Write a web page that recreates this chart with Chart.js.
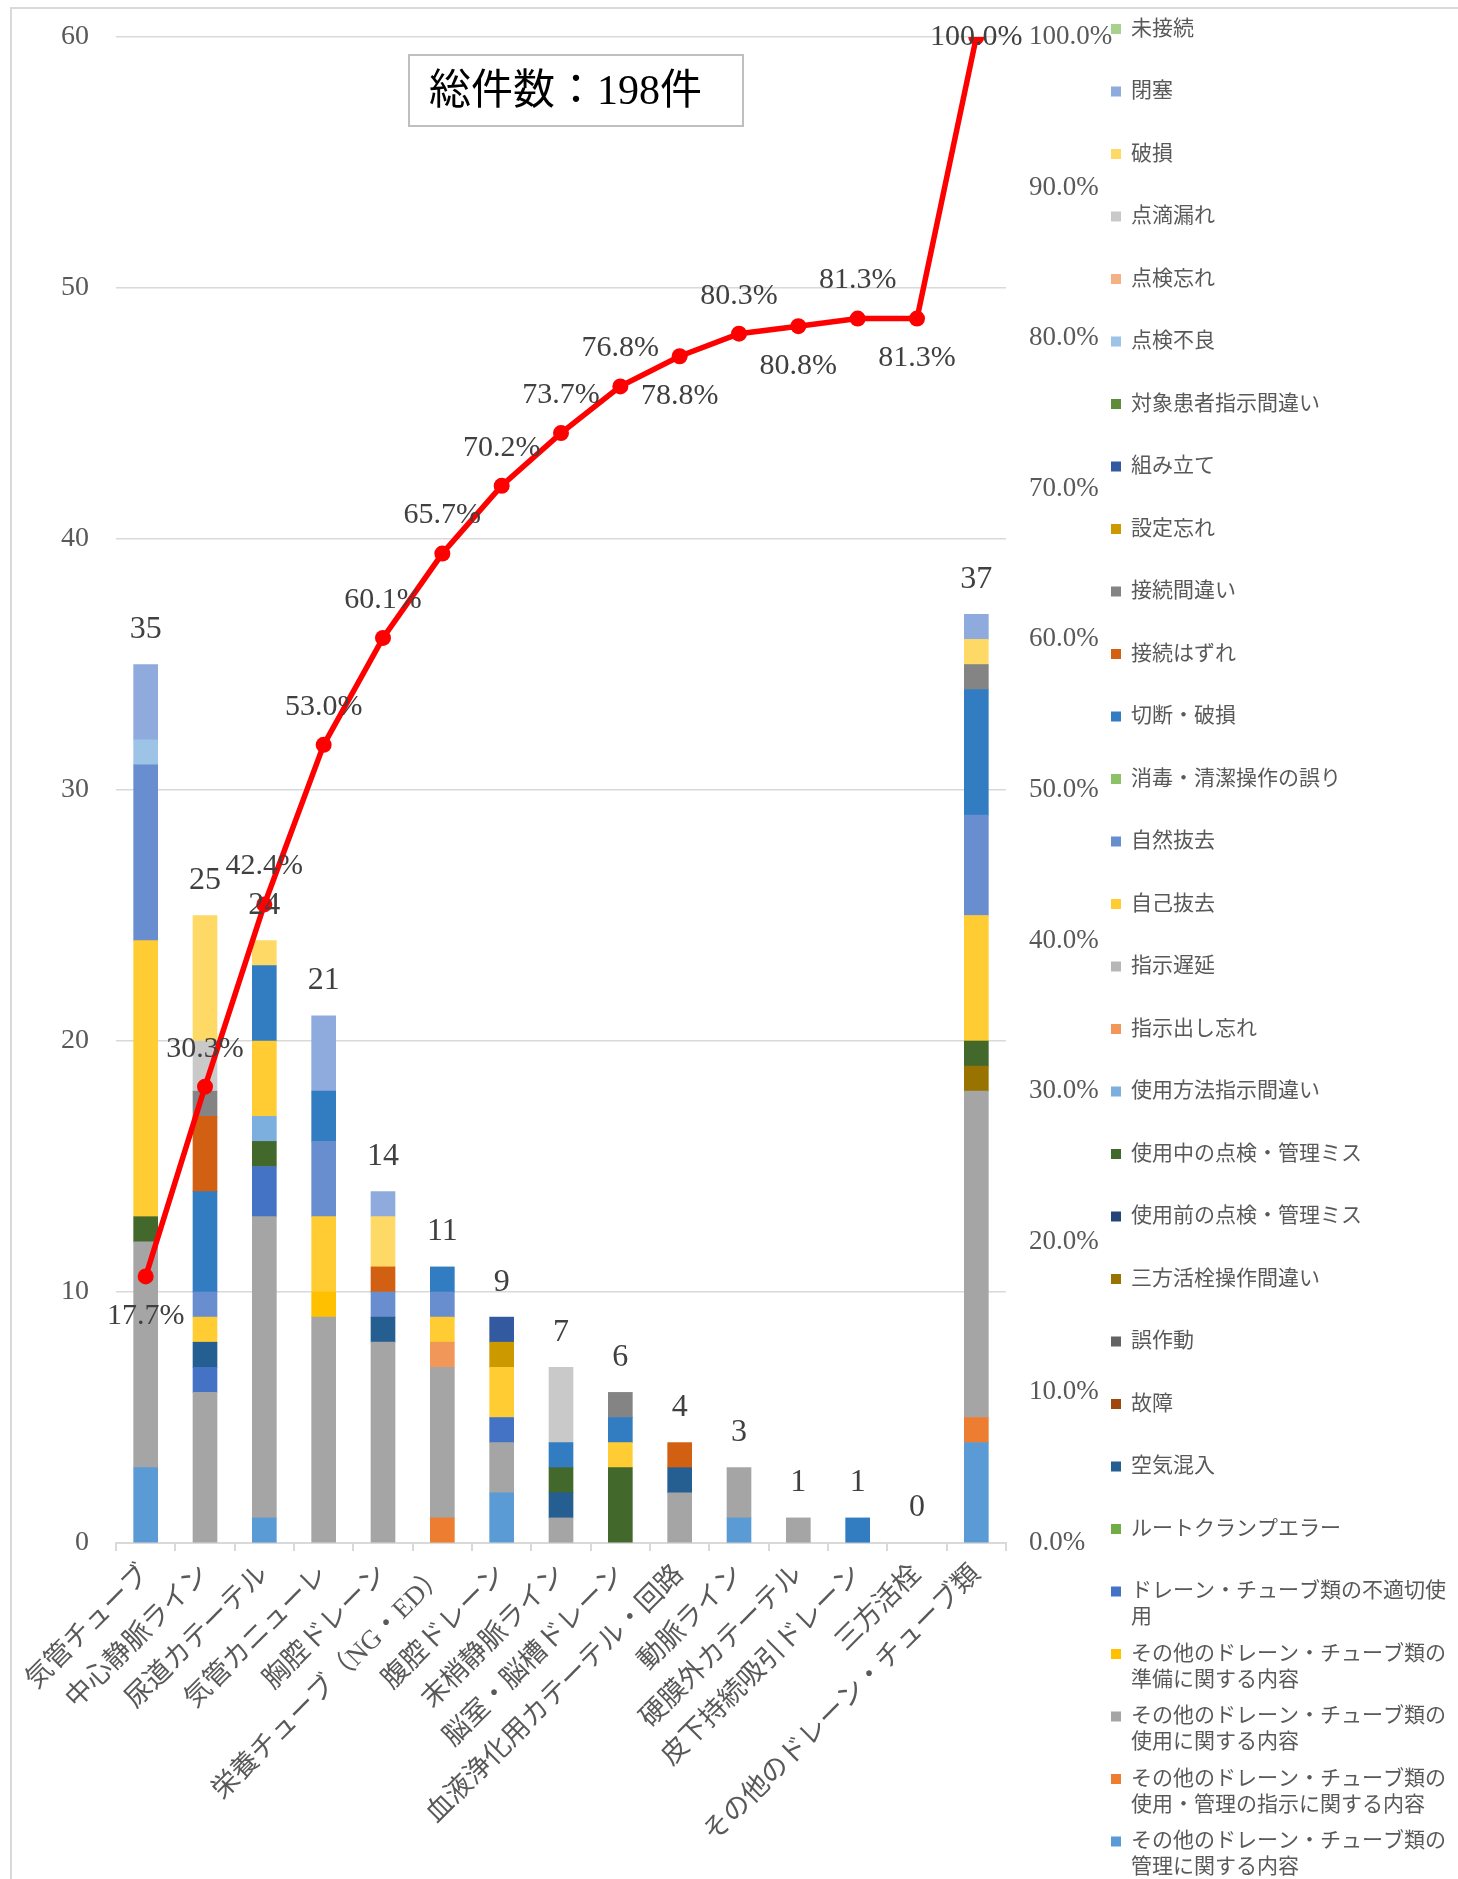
<!DOCTYPE html>
<html lang="ja">
<head>
<meta charset="utf-8">
<title>ドレーン・チューブ類 インシデント件数</title>
<script src="https://cdn.jsdelivr.net/npm/chart.js@4.4.1/dist/chart.umd.min.js"></script>
<style>
  html, body { margin: 0; padding: 0; background: #fff; }
  #wrap { position: relative; width: 1458px; height: 1879px; }
</style>
</head>
<body>
<div id="wrap"><canvas id="pareto"></canvas></div>
<script>
// カテゴリ（件数の多い順、その他は最後）
const categories = [
  '気管チューブ', '中心静脈ライン', '尿道カテーテル', '気管カニューレ', '胸腔ドレーン',
  '栄養チューブ（NG・ED）', '腹腔ドレーン', '末梢静脈ライン', '脳室・脳槽ドレーン',
  '血液浄化用カテーテル・回路', '動脈ライン', '硬膜外カテーテル', '皮下持続吸引ドレーン',
  '三方活栓', 'その他のドレーン・チューブ類'
];

// 棒の上の合計件数
const totals = [35, 25, 24, 21, 14, 11, 9, 7, 6, 4, 3, 1, 1, 0, 37];

// 累積比率（%）
const cumulativePct = [17.7, 30.3, 42.4, 53.0, 60.1, 65.7, 70.2, 73.7, 76.8, 78.8, 80.3, 80.8, 81.3, 81.3, 100.0];

// 内容別の系列（積み上げの下から順）
const seriesNames = [
  'その他のドレーン・チューブ類の管理に関する内容',
  'その他のドレーン・チューブ類の使用・管理の指示に関する内容',
  'その他のドレーン・チューブ類の使用に関する内容',
  'その他のドレーン・チューブ類の準備に関する内容',
  'ドレーン・チューブ類の不適切使用',
  'ルートクランプエラー',
  '空気混入',
  '故障',
  '誤作動',
  '三方活栓操作間違い',
  '使用前の点検・管理ミス',
  '使用中の点検・管理ミス',
  '使用方法指示間違い',
  '指示出し忘れ',
  '指示遅延',
  '自己抜去',
  '自然抜去',
  '消毒・清潔操作の誤り',
  '切断・破損',
  '接続はずれ',
  '接続間違い',
  '設定忘れ',
  '組み立て',
  '対象患者指示間違い',
  '点検不良',
  '点検忘れ',
  '点滴漏れ',
  '破損',
  '閉塞',
  '未接続'
];

const seriesValues = [
  [3, 0, 1, 0, 0, 0, 2, 0, 0, 0, 1, 0, 0, 0, 4],     // 管理に関する内容
  [0, 0, 0, 0, 0, 1, 0, 0, 0, 0, 0, 0, 0, 0, 1],     // 使用・管理の指示
  [9, 6, 12, 9, 8, 6, 2, 1, 0, 2, 2, 1, 0, 0, 13],   // 使用に関する内容
  [0, 0, 0, 1, 0, 0, 0, 0, 0, 0, 0, 0, 0, 0, 0],     // 準備に関する内容
  [0, 1, 2, 0, 0, 0, 1, 0, 0, 0, 0, 0, 0, 0, 0],     // 不適切使用
  [0, 0, 0, 0, 0, 0, 0, 0, 0, 0, 0, 0, 0, 0, 0],     // ルートクランプエラー
  [0, 1, 0, 0, 1, 0, 0, 1, 0, 1, 0, 0, 0, 0, 0],     // 空気混入
  [0, 0, 0, 0, 0, 0, 0, 0, 0, 0, 0, 0, 0, 0, 0],     // 故障
  [0, 0, 0, 0, 0, 0, 0, 0, 0, 0, 0, 0, 0, 0, 0],     // 誤作動
  [0, 0, 0, 0, 0, 0, 0, 0, 0, 0, 0, 0, 0, 0, 1],     // 三方活栓操作間違い
  [0, 0, 0, 0, 0, 0, 0, 0, 0, 0, 0, 0, 0, 0, 0],     // 使用前の点検・管理ミス
  [1, 0, 1, 0, 0, 0, 0, 1, 3, 0, 0, 0, 0, 0, 1],     // 使用中の点検・管理ミス
  [0, 0, 1, 0, 0, 0, 0, 0, 0, 0, 0, 0, 0, 0, 0],     // 使用方法指示間違い
  [0, 0, 0, 0, 0, 1, 0, 0, 0, 0, 0, 0, 0, 0, 0],     // 指示出し忘れ
  [0, 0, 0, 0, 0, 0, 0, 0, 0, 0, 0, 0, 0, 0, 0],     // 指示遅延
  [11, 1, 3, 3, 0, 1, 2, 0, 1, 0, 0, 0, 0, 0, 5],    // 自己抜去
  [7, 1, 0, 3, 1, 1, 0, 0, 0, 0, 0, 0, 0, 0, 4],     // 自然抜去
  [0, 0, 0, 0, 0, 0, 0, 0, 0, 0, 0, 0, 0, 0, 0],     // 消毒・清潔操作の誤り
  [0, 4, 3, 2, 0, 1, 0, 1, 1, 0, 0, 0, 1, 0, 5],     // 切断・破損
  [0, 3, 0, 0, 1, 0, 0, 0, 0, 1, 0, 0, 0, 0, 0],     // 接続はずれ
  [0, 1, 0, 0, 0, 0, 0, 0, 1, 0, 0, 0, 0, 0, 1],     // 接続間違い
  [0, 0, 0, 0, 0, 0, 1, 0, 0, 0, 0, 0, 0, 0, 0],     // 設定忘れ
  [0, 0, 0, 0, 0, 0, 1, 0, 0, 0, 0, 0, 0, 0, 0],     // 組み立て
  [0, 0, 0, 0, 0, 0, 0, 0, 0, 0, 0, 0, 0, 0, 0],     // 対象患者指示間違い
  [1, 0, 0, 0, 0, 0, 0, 0, 0, 0, 0, 0, 0, 0, 0],     // 点検不良
  [0, 0, 0, 0, 0, 0, 0, 0, 0, 0, 0, 0, 0, 0, 0],     // 点検忘れ
  [0, 2, 0, 0, 0, 0, 0, 3, 0, 0, 0, 0, 0, 0, 0],     // 点滴漏れ
  [0, 5, 1, 0, 2, 0, 0, 0, 0, 0, 0, 0, 0, 0, 1],     // 破損
  [3, 0, 0, 3, 1, 0, 0, 0, 0, 0, 0, 0, 0, 0, 1],     // 閉塞
  [0, 0, 0, 0, 0, 0, 0, 0, 0, 0, 0, 0, 0, 0, 0]      // 未接続
];

const seriesColors = [
  '#5B9BD5', '#ED7D31', '#A5A5A5', '#FFC000', '#4472C4', '#70AD47',
  '#255E91', '#9E480E', '#636363', '#997300', '#264478', '#43682B',
  '#7CAFDD', '#F1975A', '#B7B7B7', '#FFCD33', '#698ED0', '#8CC168',
  '#327DC2', '#D26012', '#848484', '#CC9A00', '#335AA1', '#5F8B3A',
  '#9DC3E6', '#F4B183', '#C9C9C9', '#FFD966', '#8FAADC', '#A9D18E'
];

// 累積比率ラベルを点の上下どちらに置くか
const pctLabelSide = ['below', 'above', 'above', 'above', 'above', 'above', 'above', 'above',
  'above', 'below', 'above', 'below', 'above', 'below', 'center'];

const FONT = "'Liberation Serif', 'Noto Sans CJK JP', serif";
const AXIS_COLOR = '#595959';
const GRID_COLOR = '#D9D9D9';

// 0件の区分は描かない（null にして細線が出ないようにする）
const barSets = seriesNames.map((name, i) => ({
  type: 'bar',
  label: name,
  data: seriesValues[i].map(v => (v === 0 ? null : v)),
  backgroundColor: seriesColors[i],
  borderWidth: 0,
  barThickness: 24,
  stack: 'cnt',
  yAxisID: 'y',
  order: 1
}));

const lineSet = {
  type: 'line',
  label: '累積比率',
  data: cumulativePct,
  borderColor: '#FF0000',
  backgroundColor: '#FF0000',
  borderWidth: 5.5,
  pointRadius: 8,
  pointBorderWidth: 0,
  pointBackgroundColor: '#FF0000',
  tension: 0,
  yAxisID: 'y1',
  order: 0
};

// 外枠と背景
const framePlugin = {
  id: 'frame',
  beforeDraw(chart) {
    const ctx = chart.ctx;
    ctx.save();
    ctx.fillStyle = '#fff';
    ctx.fillRect(0, 0, chart.width, chart.height);
    ctx.strokeStyle = GRID_COLOR;
    ctx.lineWidth = 2;
    ctx.strokeRect(11, 8, chart.width + 50, chart.height + 50);
    ctx.restore();
  }
};

// 棒の合計件数と累積比率のラベル
const labelPlugin = {
  id: 'labels',
  afterDatasetsDraw(chart) {
    const ctx = chart.ctx;
    const xs = chart.scales.x, ys = chart.scales.y;
    ctx.save();
    ctx.fillStyle = '#404040';
    ctx.textAlign = 'center';
    ctx.textBaseline = 'middle';
    ctx.font = '32px ' + FONT;
    totals.forEach((t, i) => {
      ctx.fillText(String(t), xs.getPixelForValue(i), ys.getPixelForValue(t) - 35);
    });
    ctx.font = '30px ' + FONT;
    const meta = chart.getDatasetMeta(chart.data.datasets.length - 1);
    meta.data.forEach((pt, i) => {
      const side = pctLabelSide[i];
      const dy = side === 'above' ? -38 : side === 'below' ? 40 : 0;
      ctx.fillText(cumulativePct[i].toFixed(1) + '%', pt.x, pt.y + dy);
    });
    ctx.restore();
  }
};

// 総件数の枠
const totalBoxPlugin = {
  id: 'totalBox',
  afterDraw(chart) {
    const ctx = chart.ctx;
    ctx.save();
    ctx.fillStyle = '#fff';
    ctx.fillRect(409, 55, 334, 71);
    ctx.strokeStyle = '#BFBFBF';
    ctx.lineWidth = 2;
    ctx.strokeRect(409, 55, 334, 71);
    ctx.fillStyle = '#000';
    ctx.font = '42px ' + FONT;
    ctx.textBaseline = 'middle';
    ctx.fillText('総件数：198件', 429, 93);
    ctx.restore();
  }
};

// 右側の凡例（積み上げの上の系列から順に）
function wrapText(ctx, text, maxW) {
  const lines = [];
  let cur = '';
  for (const ch of text) {
    if (ctx.measureText(cur + ch).width > maxW && cur) {
      lines.push(cur);
      cur = ch;
    } else {
      cur += ch;
    }
  }
  if (cur) lines.push(cur);
  return lines;
}

const legendPlugin = {
  id: 'sideLegend',
  afterDraw(chart) {
    const ctx = chart.ctx;
    ctx.save();
    ctx.font = '21px ' + FONT;
    ctx.textBaseline = 'middle';
    const sets = chart.data.datasets.filter(d => d.type === 'bar').slice().reverse();
    sets.forEach((ds, i) => {
      const y = 29 + i * 62.5;
      ctx.fillStyle = ds.backgroundColor;
      ctx.fillRect(1111, y - 5, 10, 10);
      ctx.fillStyle = AXIS_COLOR;
      wrapText(ctx, ds.label, 322).forEach((line, k) => {
        ctx.fillText(line, 1131, y + k * 26);
      });
    });
    ctx.restore();
  }
};

// 縦軸の幅を固定し、上下の余白は layout.padding だけで決める
function fixVertical(width) {
  return s => {
    s.width = width;
    s.paddingTop = 0;
    s.paddingBottom = 0;
  };
}

new Chart(document.getElementById('pareto'), {
  data: { labels: categories, datasets: [...barSets, lineSet] },
  options: {
    responsive: true,
    maintainAspectRatio: false,
    animation: false,
    layout: { padding: { top: 37, left: 0, right: 0, bottom: 0 } },
    plugins: {
      legend: { display: false },
      tooltip: { enabled: false }
    },
    scales: {
      x: {
        stacked: true,
        grid: { drawOnChartArea: false, drawTicks: true, tickLength: 8, color: GRID_COLOR, lineWidth: 2, offset: true },
        border: { color: GRID_COLOR, width: 2 },
        ticks: {
          autoSkip: false, minRotation: 45, maxRotation: 45, padding: 8,
          color: AXIS_COLOR, font: { family: FONT, size: 27 }
        },
        afterFit(s) {
          s.height = 336;
          s.paddingLeft = 0;
          s.paddingRight = 0;
        }
      },
      y: {
        stacked: true,
        min: 0, max: 60,
        ticks: { stepSize: 10, padding: 27, color: AXIS_COLOR, font: { family: FONT, size: 28 } },
        grid: { color: GRID_COLOR, lineWidth: 1.5, drawTicks: false },
        border: { display: false },
        afterFit: fixVertical(116)
      },
      y1: {
        position: 'right',
        min: 0, max: 100,
        ticks: {
          stepSize: 10, padding: 23, color: AXIS_COLOR, font: { family: FONT, size: 27 },
          callback: v => v.toFixed(1) + '%'
        },
        grid: { drawOnChartArea: false, drawTicks: false },
        border: { display: false },
        afterFit: fixVertical(452)
      }
    }
  },
  plugins: [framePlugin, labelPlugin, totalBoxPlugin, legendPlugin]
});
</script>
</body>
</html>
